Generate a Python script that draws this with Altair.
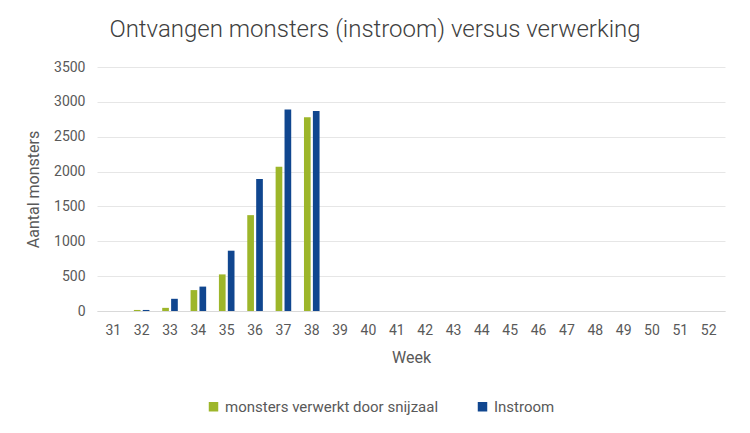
import altair as alt
import pandas as pd

# Values
WEEKS = list(range(31, 53))
VERWERKT = [0, 15, 45, 300, 525, 1375, 2070, 2780] + [0] * 14
INSTROOM = [0, 15, 175, 350, 865, 1895, 2890, 2870] + [0] * 14
SERIES = ["monsters verwerkt door snijzaal", "Instroom"]
COLORS = ["#9DB62A", "#10468F"]

FONT = "Roboto"
GREY = "#595959"

df = pd.DataFrame({"week": WEEKS, SERIES[0]: VERWERKT, SERIES[1]: INSTROOM})
long = df.melt(id_vars=["week"], value_vars=SERIES, var_name="reeks", value_name="aantal")

chart = (
    alt.Chart(long)
    .mark_bar()
    .encode(
        x=alt.X(
            "week:O",
            scale=alt.Scale(paddingInner=0.45, paddingOuter=0.3),
            axis=alt.Axis(
                title="Week",
                labelAngle=0,
                ticks=False,
                domainColor="#D9D9D9",
                labelPadding=12,
                titlePadding=12,
            ),
        ),
        xOffset=alt.XOffset("reeks:N", sort=SERIES, scale=alt.Scale(paddingInner=0.25)),
        y=alt.Y(
            "aantal:Q",
            scale=alt.Scale(domain=[0, 3500]),
            axis=alt.Axis(
                title="Aantal monsters",
                values=list(range(0, 3501, 500)),
                format="d",
                ticks=False,
                domain=False,
                gridColor="#E6E6E6",
                labelPadding=12,
                titlePadding=12,
            ),
        ),
        color=alt.Color(
            "reeks:N",
            sort=SERIES,
            scale=alt.Scale(domain=SERIES, range=COLORS),
            legend=alt.Legend(
                title=None,
                orient="none",
                direction="horizontal",
                legendX=109,
                legendY=332,
                symbolType="square",
                symbolSize=90,
                symbolStrokeWidth=0,
                labelFontSize=15,
                labelColor=GREY,
                labelFont=FONT,
                labelLimit=0,
                labelOffset=4,
                columnPadding=36,
            ),
        ),
        tooltip=["week:O", "reeks:N", "aantal:Q"],
    )
    .properties(
        width=628,
        height=244,
        padding={"left": 89, "top": 59, "right": 17, "bottom": 110},
        autosize=alt.AutoSizeParams(type="none"),
        title=alt.TitleParams(
            "Ontvangen monsters (instroom) versus verwerking",
            fontSize=24,
            font=FONT,
            fontWeight=300,
            color="#404040",
            anchor="middle",
            dx=-36,
            offset=18,
        ),
    )
    .configure_view(stroke=None)
    .configure_axis(
        labelFont=FONT,
        titleFont=FONT,
        labelFontSize=14,
        titleFontSize=16,
        labelColor=GREY,
        titleColor=GREY,
        titleFontWeight="normal",
    )
)

chart.save("out.html", embed_options={"renderer": "svg", "actions": False})
